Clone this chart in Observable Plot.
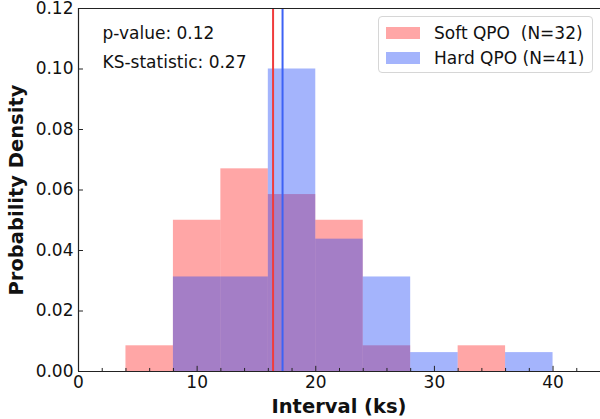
<!DOCTYPE html>
<html>
<head>
<meta charset="utf-8">
<script src="https://cdn.jsdelivr.net/npm/d3@7"></script>
<script src="https://cdn.jsdelivr.net/npm/@observablehq/plot@0.6"></script>
<style>
  html, body { margin: 0; padding: 0; background: #fff; }
  #wrap { position: relative; width: 600px; height: 419px; font-family: "DejaVu Sans", sans-serif; color: #111; }
  #legend { position: absolute; left: 378px; top: 16px; width: 215px; height: 57px; border: 1px solid #d6d6d6; border-radius: 4px; background: rgba(255,255,255,0.8); box-sizing: border-box; }
  .item { position: absolute; left: 7px; height: 22px; display: flex; align-items: center; font-size: 17px; white-space: pre; }
  .sw { width: 34px; height: 12px; margin-right: 14px; }
  #xlabel { position: absolute; left: 78px; width: 522px; top: 395px; text-align: center; font-weight: bold; font-size: 19.5px; line-height: 24px; }
  #ylabel { position: absolute; left: 5px; top: 190px; width: 0; height: 0; }
  #ylabel span { position: absolute; transform: translate(-50%, -50%) rotate(-90deg); left: 12px; top: 0; white-space: nowrap; font-weight: bold; font-size: 19.5px; line-height: 24px; }
</style>
</head>
<body>
<div id="wrap">
  <div id="chart"></div>
  <div id="legend">
    <div class="item" style="top:5px"><span class="sw" style="background:#ffa6a6"></span>Soft QPO  (N=32)</div>
    <div class="item" style="top:30px"><span class="sw" style="background:#a4b4fc"></span>Hard QPO (N=41)</div>
  </div>
  <div id="xlabel">Interval (ks)</div>
  <div id="ylabel"><span>Probability Density</span></div>
</div>
<script>
const binEdges = [4, 8, 12, 16, 20, 24, 28, 32, 36, 40];
const softDensity = [0.0085, 0.050, 0.067, 0.0585, 0.050, 0.0085, 0, 0.0085, 0];
const hardDensity = [0, 0.03125, 0.03125, 0.100, 0.04375, 0.03125, 0.00625, 0, 0.00625];
const softMedian = 16.4;
const hardMedian = 17.2;
const xMajor = [0, 10, 20, 30, 40];
const xMinor = [2, 4, 6, 8, 12, 14, 16, 18, 22, 24, 26, 28, 32, 34, 36, 38, 42];
const yMajor = [0, 0.02, 0.04, 0.06, 0.08, 0.10, 0.12];

const soft = softDensity.map((v, i) => ({x1: binEdges[i], x2: binEdges[i + 1], y: v})).filter(d => d.y > 0);
const hard = hardDensity.map((v, i) => ({x1: binEdges[i], x2: binEdges[i + 1], y: v})).filter(d => d.y > 0);

const font = "DejaVu Sans";
const chart = Plot.plot({
  width: 600,
  height: 419,
  marginLeft: 78,
  marginRight: 0,
  marginTop: 8,
  marginBottom: 48,
  style: {fontFamily: font, fontSize: "17px", color: "#111", background: "#fff"},
  x: {domain: [0, 44]},
  y: {domain: [0, 0.12]},
  marks: [
    Plot.rectY(soft, {x1: "x1", x2: "x2", y: "y", fill: "red", fillOpacity: 0.35}),
    Plot.rectY(hard, {x1: "x1", x2: "x2", y: "y", fill: "#1c44f8", fillOpacity: 0.4}),
    Plot.ruleX([softMedian], {stroke: "#f03c3c", strokeWidth: 2}),
    Plot.ruleX([hardMedian], {stroke: "#3d62f5", strokeWidth: 2}),
    Plot.ruleX([0], {stroke: "#222", strokeWidth: 1.2}),
    Plot.ruleY([0], {stroke: "#222", strokeWidth: 1.2}),
    Plot.ruleY([0.12], {stroke: "#222", strokeWidth: 1.2}),
    Plot.ruleX(xMajor, {y1: 0, y2: 0.0017, stroke: "#222"}),
    Plot.ruleX(xMinor, {y1: 0, y2: 0.001, stroke: "#222"}),
    Plot.ruleY(yMajor, {x1: 0, x2: 0.42, stroke: "#222"}),
    Plot.axisX(xMajor, {tickSize: 0, tickPadding: 4, fontSize: 17, label: null}),
    Plot.axisY(yMajor, {tickSize: 0, tickPadding: 5, fontSize: 17, tickFormat: d3.format(".2f"), label: null}),
    Plot.text(["p-value: 0.12"], {frameAnchor: "top-left", dx: 24, dy: 25, lineAnchor: "middle", textAnchor: "start", fontSize: 17, fill: "#111"}),
    Plot.text(["KS-statistic: 0.27"], {frameAnchor: "top-left", dx: 24, dy: 54, lineAnchor: "middle", textAnchor: "start", fontSize: 17, fill: "#111"})
  ]
});
document.getElementById("chart").appendChild(chart);
</script>
</body>
</html>
